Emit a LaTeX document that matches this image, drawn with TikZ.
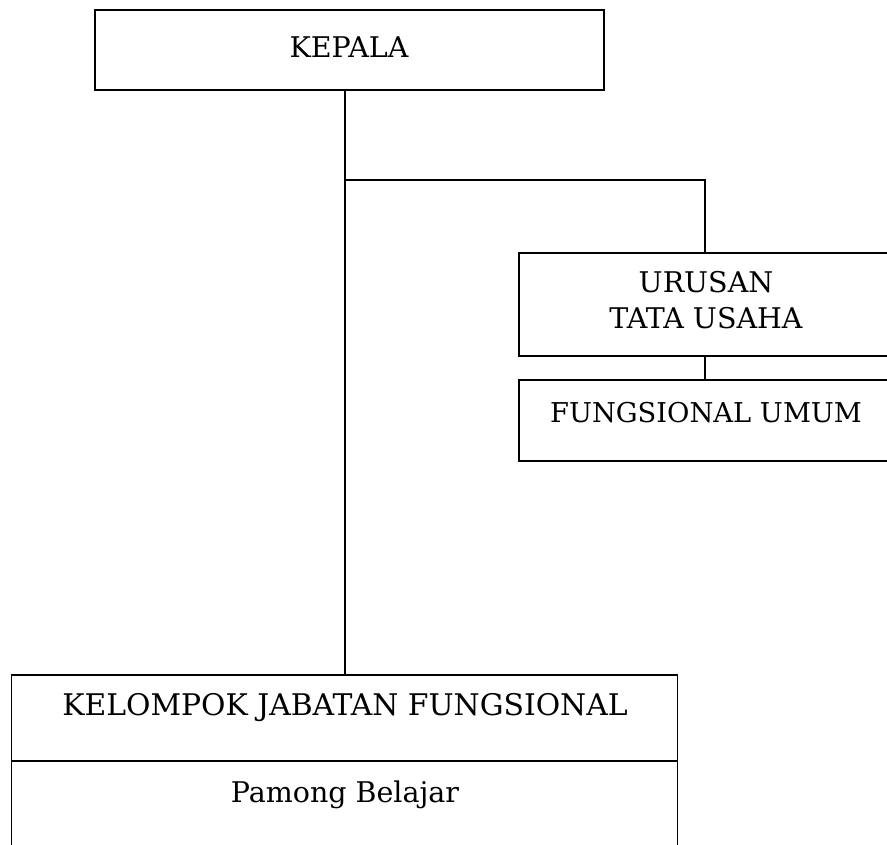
\documentclass[tikz,border=0pt]{standalone}
\usepackage{fontspec}
\setmainfont{DejaVu Serif}
\begin{document}
\begin{tikzpicture}[x=1pt,y=-1pt,
  orgbox/.style={draw, line width=1.8pt, inner sep=0pt},
  lbl/.style={font=\fontsize{28.5}{32}\selectfont, anchor=base, inner sep=0pt},
  conn/.style={line width=1.5pt}]
\useasboundingbox (0,0) rectangle (887,845);
% boxes
\node[orgbox, minimum width=509pt, minimum height=80pt] (kepala) at (349.5,50) {};
\node[lbl] (kepalat) at (349,58) {KEPALA};
\node[orgbox, minimum width=372pt, minimum height=103pt] (urusan) at (705,304.5) {};
\node[lbl] (urusant1) at (706,293) {URUSAN};
\node[lbl] (urusant2) at (706,329) {TATA USAHA};
\node[orgbox, minimum width=372pt, minimum height=81pt] (fung) at (705,420.5) {};
\node[lbl, font=\fontsize{27.3}{32}\selectfont] (fungt) at (706,422) {FUNGSIONAL UMUM};
\node[orgbox, minimum width=666pt, minimum height=200pt] (kjf) at (344.5,775) {};
\node[lbl, font=\fontsize{29.8}{32}\selectfont] (kjft) at (345,715) {KELOMPOK JABATAN FUNGSIONAL};
\node[lbl] (pb) at (345,802) {Pamong Belajar};
\draw[line width=1.8pt] (kjf.west |- 0,761) -- (kjf.east |- 0,761);
% connectors
\coordinate (j) at (345,180);
\coordinate (jr) at (705,180);
\draw[conn] (kepala.south -| j) -- (kjf.north -| j);
\draw[conn] (j) -- (jr) -- (urusan.north);
\draw[conn] (urusan.south) -- (fung.north);
\end{tikzpicture}
\end{document}
